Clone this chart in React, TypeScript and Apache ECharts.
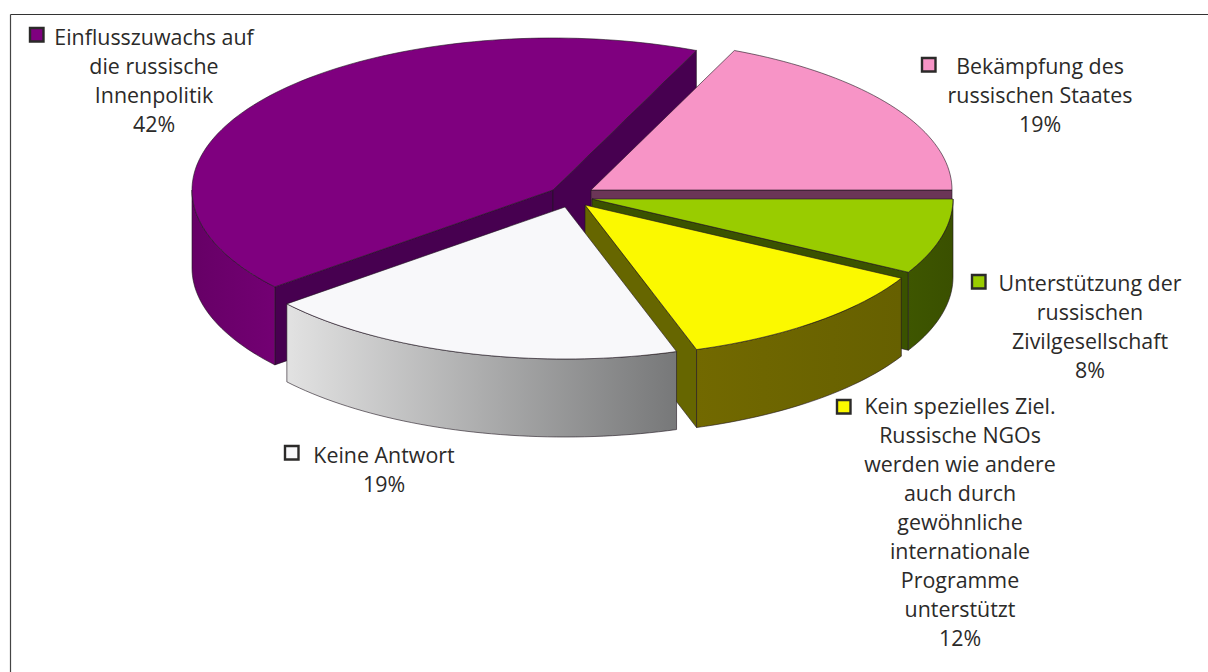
import React, { useEffect, useRef } from "react";
import * as echarts from "echarts";

// Data: shares (clockwise from the pink slice)
const categories = [
  "Bekämpfung des russischen Staates",
  "Unterstützung der russischen Zivilgesellschaft",
  "Kein spezielles Ziel. Russische NGOs werden wie andere auch durch gewöhnliche internationale Programme unterstützt",
  "Keine Antwort",
  "Einflusszuwachs auf die russische Innenpolitik",
];
const shares = [18.5, 8, 12, 19, 42.5];
const percentLabels = ["19%", "8%", "12%", "19%", "42%"];
const labelLines = [
  ["Bekämpfung des", "russischen Staates"],
  ["Unterstützung der", "russischen", "Zivilgesellschaft"],
  ["Kein spezielles Ziel.", "Russische NGOs", "werden wie andere", "auch durch", "gewöhnliche", "internationale", "Programme", "unterstützt"],
  ["Keine Antwort"],
  ["Einflusszuwachs auf", "die russische", "Innenpolitik"],
];

// Styles and layout
const topColors = ["#f794c6", "#99cc00", "#fbf900", "#f8f8fa", "#7f007f"];
const sideColors = ["#6b3557", "#3a5200", "#666600", "#bbbbbb", "#470050"];
const outerColors: string[][] = [
  ["#6b3557", "#6b3557"],
  ["#3e5600", "#3a5000"],
  ["#726900", "#666000"],
  ["#e2e2e2", "#777879"],
  ["#660066", "#730073"],
];
const apexes = [[591, 190], [592, 199], [585, 205], [565, 207], [553, 190]];
const markerPos = [[922, 58], [972, 275], [837, 400], [285, 446], [30, 28]];
const textCenters = [1040, 1090, 960, 384, 154];
const firstLineY = [65, 282, 405, 454, 36];
const drawOrder = [4, 0, 1, 2, 3];
const RX = 361;
const RY = 152;
const THICK = 78;
const START_DEG = 23.4;
const LINE_H = 29.1;
const INK = "#2b2a29";
const EDGE = "rgba(30,20,30,0.75)";

const total = shares.reduce((a, b) => a + b, 0);
const spans = shares.map((_, i) => {
  const before = shares.slice(0, i).reduce((a, b) => a + b, 0);
  return [START_DEG + (before / total) * 360, START_DEG + ((before + shares[i]) / total) * 360];
});

function pt(i: number, deg: number, dy = 0): number[] {
  const r = (deg * Math.PI) / 180;
  return [apexes[i][0] + RX * Math.sin(r), apexes[i][1] - RY * Math.cos(r) + dy];
}

function arc(i: number, a: number, b: number, dy = 0): number[][] {
  const n = Math.max(2, Math.ceil(Math.abs(b - a) / 1.5));
  const out: number[][] = [];
  for (let k = 0; k <= n; k++) out.push(pt(i, a + ((b - a) * k) / n, dy));
  return out;
}

function poly(points: number[][], fill: any, lineWidth = 0.8) {
  return {
    type: "polygon",
    shape: { points },
    style: { fill, stroke: EDGE, lineWidth, lineJoin: "round" },
  };
}

function sliceShapes(i: number) {
  const [a, b] = spans[i];
  const [ax, ay] = apexes[i];
  const children: any[] = [];
  const sideQuad = (deg: number) => {
    const p = pt(i, deg);
    return poly([[ax, ay], p, [p[0], p[1] + THICK], [ax, ay + THICK]], sideColors[i]);
  };
  if (Math.sin((a * Math.PI) / 180) < -1e-6) children.push(sideQuad(a));
  if (Math.sin((b * Math.PI) / 180) > 1e-6) children.push(sideQuad(b));
  // outer wall: only the front half of the rim faces the viewer
  const from = Math.max(a, 90);
  const to = Math.min(b, 270);
  if (to > from) {
    const upper = arc(i, from, to);
    const lower = arc(i, to, from, THICK);
    children.push(
      poly(upper.concat(lower), {
        type: "linear",
        x: 0,
        y: 0,
        x2: 1,
        y2: 0,
        colorStops: [
          { offset: 0, color: outerColors[i][0] },
          { offset: 1, color: outerColors[i][1] },
        ],
      })
    );
  }
  children.push(poly([[ax, ay], ...arc(i, a, b)], topColors[i]));
  return children;
}

function buildGraphic() {
  const els: any[] = [
    { type: "line", shape: { x1: 10.5, y1: 14.5, x2: 1208, y2: 14.5 }, style: { stroke: "#333333", lineWidth: 1.2 } },
    { type: "line", shape: { x1: 10.5, y1: 14.5, x2: 10.5, y2: 672 }, style: { stroke: "#444444", lineWidth: 1.2 } },
  ];
  categories.forEach((_, i) => {
    const [mx, my] = markerPos[i];
    els.push({
      type: "rect",
      shape: { x: mx, y: my, width: 13.5, height: 13.5 },
      style: { fill: topColors[i], stroke: INK, lineWidth: 2.4 },
    });
    const lines = [...labelLines[i], percentLabels[i]];
    lines.forEach((t, k) => {
      els.push({
        type: "text",
        x: textCenters[i],
        y: firstLineY[i] + k * LINE_H,
        style: {
          text: t,
          fill: INK,
          font: '21.4px "Open Sans"',
          align: "center",
          verticalAlign: "middle",
        },
      });
    });
  });
  return els;
}

export default function App() {
  const ref = useRef<HTMLDivElement>(null);
  useEffect(() => {
    const chart = echarts.init(ref.current!, undefined, { renderer: "svg" });
    chart.setOption({
      animation: false,
      backgroundColor: "#ffffff",
      series: [
        {
          type: "custom",
          coordinateSystem: "none",
          silent: true,
          data: drawOrder.map((i) => ({ name: categories[i], value: shares[i] })),
          renderItem: (params: any) => ({
            type: "group",
            children: sliceShapes(drawOrder[params.dataIndex]),
          }),
        },
      ],
      graphic: buildGraphic(),
    });
    return () => chart.dispose();
  }, []);
  return <div ref={ref} style={{ position: "absolute", left: 0, top: 0, width: 1208, height: 672 }} />;
}
